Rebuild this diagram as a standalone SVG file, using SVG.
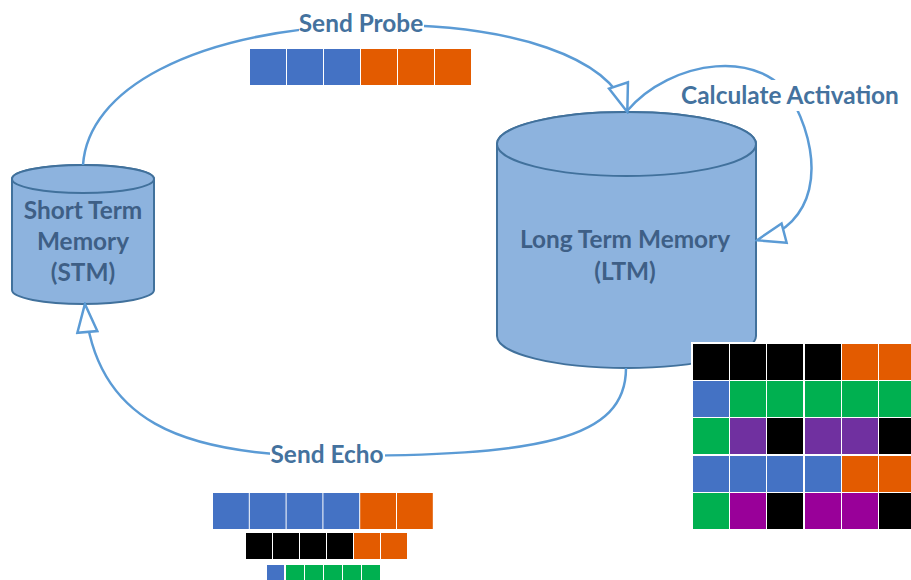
<svg xmlns="http://www.w3.org/2000/svg" width="911" height="580" viewBox="0 0 911 580">
  <style>
    .cyl { fill: #8DB3DE; stroke: #41719C; stroke-width: 2; }
    .conn { fill: none; stroke: #5B9BD5; stroke-width: 2.5; }
    .lbl { font-family: "Lato", "Liberation Sans", sans-serif; font-weight: 700; font-size: 24.4px; fill: #44729E; text-anchor: middle; }
    .node-txt { font-family: "Lato", "Liberation Sans", sans-serif; font-weight: 700; font-size: 24.4px; fill: #3E5F86; text-anchor: middle; }
    .knock { fill: #FFFFFF; }
    .b { fill: #4472C4; }
    .o { fill: #E35B00; }
    .k { fill: #000000; }
    .g { fill: #00B050; }
    .p { fill: #7030A0; }
    .m { fill: #990099; }
  </style>
  <defs>
    <marker id="openArrow" markerUnits="userSpaceOnUse" viewBox="-2 -2 32 24" markerWidth="32" markerHeight="24" refX="27" refY="10" orient="auto">
      <path d="M0,0 L28,10 L0,20 Z" fill="#FFFFFF" stroke="#5B9BD5" stroke-width="2.5" stroke-linejoin="miter"/>
    </marker>
  </defs>

  <rect width="911" height="580" fill="#FFFFFF"/>

  <!-- Short Term Memory store -->
  <g id="stm">
    <path class="cyl" d="M12,179 V290 A71,14 0 0 0 154,290 V179 A71,14 0 0 0 12,179 Z"/>
    <ellipse class="cyl" cx="83" cy="179" rx="71" ry="14"/>
    <text class="node-txt" x="83" y="219">Short Term</text>
    <text class="node-txt" x="83" y="250">Memory</text>
    <text class="node-txt" x="83" y="281">(STM)</text>
  </g>

  <!-- Long Term Memory store -->
  <g id="ltm">
    <path class="cyl" d="M497,144 V336 A129.5,32 0 0 0 756,336 V144 A129.5,32 0 0 0 497,144 Z"/>
    <ellipse class="cyl" cx="626.5" cy="144" rx="129.5" ry="32"/>
    <text class="node-txt" x="625" y="248">Long Term Memory</text>
    <text class="node-txt" x="625" y="280">(LTM)</text>
  </g>

  <!-- Connectors with their labels -->
  <g id="connectors">
    <path id="probe" class="conn" d="M83,165 C88,90 190,32 361,25 C520,22 610,60 627,111" marker-end="url(#openArrow)"/>
    <path id="activation" class="conn" d="M627,111 C670,60 765,45 795,105 C825,165 815,225 758,240" marker-end="url(#openArrow)"/>
    <path id="echo" class="conn" d="M626,368 C626,440 540,456 330,456 C180,456 95,420 85,305" marker-end="url(#openArrow)"/>

    <rect class="knock" x="299" y="10" width="125" height="26"/>
    <text class="lbl" x="361" y="32">Send Probe</text>

    <rect class="knock" x="679" y="80" width="224" height="31"/>
    <text class="lbl" x="790" y="104">Calculate Activation</text>

    <rect class="knock" x="270" y="443" width="115" height="24"/>
    <text class="lbl" x="327" y="463">Send Echo</text>
  </g>

  <!-- Probe vector -->
  <g id="probe-vector">
    <rect class="b" x="250" y="49" width="36" height="36"/>
    <rect class="b" x="287" y="49" width="36" height="36"/>
    <rect class="b" x="324" y="49" width="36" height="36"/>
    <rect class="o" x="361" y="49" width="36" height="36"/>
    <rect class="o" x="398" y="49" width="36" height="36"/>
    <rect class="o" x="435" y="49" width="36" height="36"/>
  </g>

  <!-- Echo vectors -->
  <g id="echo-vectors">
    <rect class="b" x="213" y="493" width="35.8" height="36"/>
    <rect class="b" x="249.8" y="493" width="35.8" height="36"/>
    <rect class="b" x="286.6" y="493" width="35.8" height="36"/>
    <rect class="b" x="323.4" y="493" width="35.8" height="36"/>
    <rect class="o" x="360.2" y="493" width="35.8" height="36"/>
    <rect class="o" x="397" y="493" width="35.8" height="36"/>

    <rect class="k" x="246" y="533" width="26" height="26"/>
    <rect class="k" x="273" y="533" width="26" height="26"/>
    <rect class="k" x="300" y="533" width="26" height="26"/>
    <rect class="k" x="327" y="533" width="26" height="26"/>
    <rect class="o" x="354" y="533" width="26" height="26"/>
    <rect class="o" x="381" y="533" width="26" height="26"/>

    <rect class="b" x="267" y="565" width="17" height="18"/>
    <rect class="g" x="286" y="565" width="18" height="18"/>
    <rect class="g" x="305" y="565" width="18" height="18"/>
    <rect class="g" x="324" y="565" width="18" height="18"/>
    <rect class="g" x="343" y="565" width="18" height="18"/>
    <rect class="g" x="362" y="565" width="18" height="18"/>
  </g>

  <!-- Stored traces matrix -->
  <g id="trace-matrix">
    <rect x="691" y="342" width="222" height="190" fill="#FFFFFF"/>
    <rect class="k" x="693" y="344" width="36" height="36"/>
    <rect class="k" x="730" y="344" width="36" height="36"/>
    <rect class="k" x="767" y="344" width="36" height="36"/>
    <rect class="k" x="805" y="344" width="36" height="36"/>
    <rect class="o" x="842" y="344" width="36" height="36"/>
    <rect class="o" x="879" y="344" width="36" height="36"/>

    <rect class="b" x="693" y="381" width="36" height="36"/>
    <rect class="g" x="730" y="381" width="36" height="36"/>
    <rect class="g" x="767" y="381" width="36" height="36"/>
    <rect class="g" x="805" y="381" width="36" height="36"/>
    <rect class="g" x="842" y="381" width="36" height="36"/>
    <rect class="g" x="879" y="381" width="36" height="36"/>

    <rect class="g" x="693" y="418" width="36" height="36"/>
    <rect class="p" x="730" y="418" width="36" height="36"/>
    <rect class="k" x="767" y="418" width="36" height="36"/>
    <rect class="p" x="805" y="418" width="36" height="36"/>
    <rect class="p" x="842" y="418" width="36" height="36"/>
    <rect class="k" x="879" y="418" width="36" height="36"/>

    <rect class="b" x="693" y="456" width="36" height="36"/>
    <rect class="b" x="730" y="456" width="36" height="36"/>
    <rect class="b" x="767" y="456" width="36" height="36"/>
    <rect class="b" x="805" y="456" width="36" height="36"/>
    <rect class="o" x="842" y="456" width="36" height="36"/>
    <rect class="o" x="879" y="456" width="36" height="36"/>

    <rect class="g" x="693" y="493" width="36" height="36"/>
    <rect class="m" x="730" y="493" width="36" height="36"/>
    <rect class="k" x="767" y="493" width="36" height="36"/>
    <rect class="m" x="805" y="493" width="36" height="36"/>
    <rect class="m" x="842" y="493" width="36" height="36"/>
    <rect class="k" x="879" y="493" width="36" height="36"/>
  </g>
</svg>
